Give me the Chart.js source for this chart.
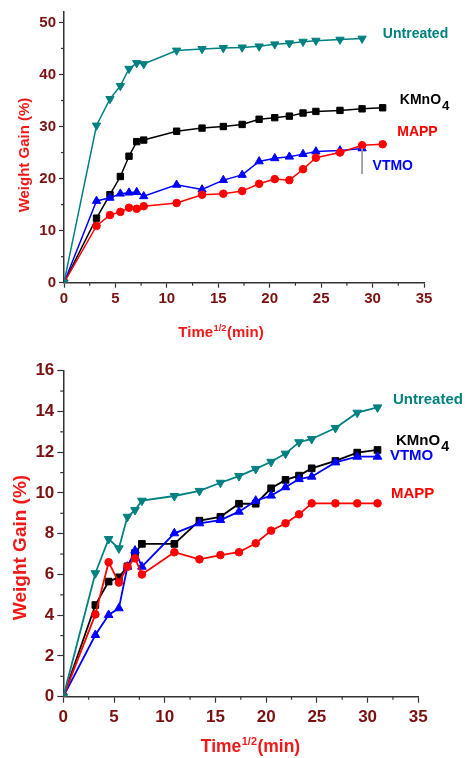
<!DOCTYPE html>
<html><head><meta charset="utf-8">
<script src="https://cdn.jsdelivr.net/npm/chart.js@4/dist/chart.umd.min.js"></script>
<style>
html,body{margin:0;padding:0;background:#fff;width:465px;height:758px;overflow:hidden}
#w1{position:absolute;left:0;top:0;width:465px;height:345px}
#w2{position:absolute;left:0;top:345px;width:465px;height:413px}
</style></head><body>
<div id="w1"><canvas id="c1"></canvas></div>
<div id="w2"><canvas id="c2"></canvas></div>
<script>
// x values: square root of time (min^1/2)
const sqrtTime = [0, 3.16, 4.47, 5.48, 6.32, 7.07, 7.75, 10.95, 13.42, 15.49, 17.32, 18.97, 20.49, 21.91, 23.24, 24.49, 26.83, 28.98, 30.98];

// Top panel (weight gain %)
const topUntreated = [0, 30.2, 35.3, 37.8, 41.1, 42.2, 42.0, 44.6, 44.9, 45.1, 45.2, 45.4, 45.8, 46.0, 46.3, 46.5, 46.7, 46.9];
const topKMnO4     = [0, 12.4, 16.9, 20.4, 24.3, 27.1, 27.4, 29.1, 29.7, 30.0, 30.4, 31.4, 31.7, 32.0, 32.6, 32.9, 33.1, 33.4, 33.6];
const topMAPP      = [0, 10.9, 13.0, 13.6, 14.4, 14.2, 14.7, 15.3, 16.9, 17.1, 17.6, 19.0, 19.9, 19.7, 21.8, 24.0, 25.0, 26.4, 26.6];
const topVTMO      = [0, 15.7, 16.3, 17.1, 17.3, 17.4, 16.6, 18.8, 17.9, 19.7, 20.7, 23.3, 23.9, 24.2, 24.7, 25.2, 25.4, 25.8];
const topMarkerLine = [[28.98, 25.8], [28.98, 20.9]];

// Bottom panel (weight gain %)
const botUntreated = [0, 6.06, 7.74, 7.28, 8.83, 9.16, 9.62, 9.85, 10.10, 10.50, 10.83, 11.18, 11.53, 11.93, 12.49, 12.65, 13.19, 13.94, 14.20];
const botKMnO4     = [0, 4.50, 5.65, 5.86, 6.40, 7.05, 7.50, 7.50, 8.64, 8.83, 9.47, 9.47, 10.23, 10.64, 10.85, 11.21, 11.57, 11.98, 12.11];
const botMAPP      = [0, 4.04, 6.60, 5.60, 6.38, 6.79, 6.00, 7.09, 6.74, 6.95, 7.09, 7.53, 8.15, 8.51, 8.95, 9.49, 9.49, 9.49, 9.49];
const botVTMO      = [0, 3.03, 4.01, 4.34, 6.38, 7.17, 6.38, 8.02, 8.51, 8.67, 9.08, 9.62, 9.87, 10.28, 10.68, 10.80, 11.50, 11.78, 11.78];

const xTicks = [0, 5, 10, 15, 20, 25, 30, 35];
const topYTicks = [0, 10, 20, 30, 40, 50];
const botYTicks = [0, 2, 4, 6, 8, 10, 12, 14, 16];
const seriesNames = ['Untreated', 'KMnO', 'MAPP', 'VTMO'];
const xTitle = ['Time', '1/2', '(min)'];
const yTitle = 'Weight Gain (%)';

const C = {teal:'#008080', black:'#000000', red:'#ff0000', blue:'#0000ff', tick:'#7a1010', title:'#f21818', axis:'#333333'};
const FONT = '"Liberation Sans", Arial, sans-serif';

function pts(ys){ return ys.map((y,i)=>({x:sqrtTime[i], y:y})); }

function ds(label, ys, color, style, r, rot, lw){
  return {label, data:pts(ys), borderColor:color, backgroundColor:color, pointStyle:style,
    pointRadius:r, pointHoverRadius:r, pointRotation:rot||0, borderWidth:lw, pointBorderWidth:1, tension:0};
}

const textPlugin = {
  id:'textPlugin',
  afterDraw(chart, args, o){
    const ctx = chart.ctx, xs = chart.scales.x, ys = chart.scales.y;
    ctx.save();
    // minor ticks
    ctx.strokeStyle = C.axis; ctx.lineWidth = 1.2;
    o.xMinor.forEach(v=>{ const px = xs.getPixelForValue(v); ctx.beginPath(); ctx.moveTo(px, ys.bottom); ctx.lineTo(px, ys.bottom+o.minorLen); ctx.stroke(); });
    o.yMinor.forEach(v=>{ const py = ys.getPixelForValue(v); ctx.beginPath(); ctx.moveTo(xs.left, py); ctx.lineTo(xs.left-o.minorLen, py); ctx.stroke(); });
    // series labels
    ctx.textBaseline = 'middle'; ctx.textAlign = 'left';
    o.labels.forEach(l=>{
      const px = xs.getPixelForValue(l.x), py = ys.getPixelForValue(l.y);
      ctx.fillStyle = l.color; ctx.font = 'bold '+o.labelSize+'px '+FONT;
      ctx.fillText(l.text, px, py);
      if (l.sub){
        const w = ctx.measureText(l.text).width;
        ctx.font = 'bold '+(o.labelSize*0.95)+'px '+FONT;
        ctx.fillText(l.sub, px+w+1, py+o.labelSize*0.45);
      }
    });
    // x title with superscript
    const f = o.xTitleSize;
    ctx.fillStyle = C.title; ctx.textBaseline = 'alphabetic';
    ctx.font = 'bold '+f+'px '+FONT;
    const w1 = ctx.measureText(xTitle[0]).width;
    ctx.font = 'bold '+(f*0.62)+'px '+FONT;
    const w2 = ctx.measureText(xTitle[1]).width;
    ctx.font = 'bold '+f+'px '+FONT;
    const w3 = ctx.measureText(xTitle[2]).width;
    const x0 = o.xTitleX - (w1+w2+w3+1)/2, base = o.xTitleY + f*0.36;
    ctx.fillText(xTitle[0], x0, base);
    ctx.font = 'bold '+(f*0.62)+'px '+FONT;
    ctx.fillText(xTitle[1], x0+w1+0.5, base - f*0.42);
    ctx.font = 'bold '+f+'px '+FONT;
    ctx.fillText(xTitle[2], x0+w1+w2+1, base);
    // y title
    ctx.translate(o.yTitleX, o.yTitleY); ctx.rotate(-Math.PI/2);
    ctx.textAlign = 'center'; ctx.textBaseline = 'middle';
    ctx.font = 'bold '+o.yTitleSize+'px '+FONT;
    ctx.fillText(yTitle, 0, 0);
    ctx.restore();
  }
};

function makeChart(id, cfg){
  return new Chart(document.getElementById(id), {
    type:'line',
    data:{datasets:cfg.datasets},
    plugins:[textPlugin],
    options:{
      responsive:true, maintainAspectRatio:false, animation:false, devicePixelRatio:1,
      layout:{padding:cfg.padding},
      plugins:{legend:{display:false}, tooltip:{enabled:false}, textPlugin:cfg.text},
      scales:{
        x:{type:'linear', min:0, max:35,
          afterBuildTicks:s=>{ s.ticks = xTicks.map(v=>({value:v})); },
          afterFit:s=>{ s.height = cfg.xHeight; },
          grid:{display:true, drawOnChartArea:false, drawTicks:true, tickLength:cfg.tickLen, tickColor:C.axis, tickWidth:1.2},
          border:{display:true, color:C.axis, width:1.5},
          ticks:{color:C.tick, font:{family:FONT, weight:'bold', size:cfg.tickSize}, padding:cfg.xPad, maxRotation:0, autoSkip:false}},
        y:{type:'linear', min:0, max:cfg.yMax,
          afterBuildTicks:s=>{ s.ticks = cfg.yTicks.map(v=>({value:v})); },
          afterFit:s=>{ s.width = cfg.yWidth; },
          grid:{display:true, drawOnChartArea:false, drawTicks:true, tickLength:cfg.tickLen, tickColor:C.axis, tickWidth:1.2},
          border:{display:true, color:C.axis, width:1.5},
          ticks:{color:C.tick, font:{family:FONT, weight:'bold', size:cfg.tickSize}, padding:cfg.yPad, autoSkip:false}}
      }
    }
  });
}

// Top chart
makeChart('c1', {
  padding:{left:0, top:8, right:41, bottom:0},
  xHeight:345-282.7, yWidth:64, yMax:52, yTicks:topYTicks, tickLen:5, tickSize:15, xPad:2, yPad:3,
  datasets:[
    {label:'marker', data:topMarkerLine.map(p=>({x:p[0], y:p[1]})), borderColor:'#999999', borderWidth:1, pointRadius:0},
    ds('Untreated', topUntreated, C.teal, 'triangle', 4.8, 180, 1.5),
    ds('MAPP', topMAPP, C.red, 'circle', 3.8, 0, 1.5),
    ds('VTMO', topVTMO, C.blue, 'triangle', 4.8, 0, 1.5),
    ds('KMnO4', topKMnO4, C.black, 'rect', 4.5, 0, 1.5)
  ],
  text:{xMinor:[2.5,7.5,12.5,17.5,22.5,27.5,32.5], yMinor:[5,15,25,35,45], minorLen:3, labelSize:14,
    labels:[
      {text:seriesNames[0], x:31.0, y:47.8, color:C.teal},
      {text:seriesNames[1], sub:'4', x:32.65, y:35.0, color:C.black},
      {text:seriesNames[2], x:32.4, y:28.95, color:C.red},
      {text:seriesNames[3], x:30.0, y:22.45, color:C.blue}
    ],
    xTitleX:221, xTitleY:332, xTitleSize:15, yTitleX:25, yTitleY:155, yTitleSize:15}
});

// Bottom chart
makeChart('c2', {
  padding:{left:0, top:25.7, right:465-418.3, bottom:0},
  xHeight:413-351.7, yWidth:63.3, yMax:16, yTicks:botYTicks, tickLen:6, tickSize:17, xPad:4, yPad:3,
  datasets:[
    ds('Untreated', botUntreated, C.teal, 'triangle', 5, 180, 1.8),
    ds('MAPP', botMAPP, C.red, 'circle', 3.8, 0, 1.8),
    ds('VTMO', botVTMO, C.blue, 'triangle', 5, 0, 1.8),
    ds('KMnO4', botKMnO4, C.black, 'rect', 4.7, 0, 1.8)
  ],
  text:{xMinor:[2.5,7.5,12.5,17.5,22.5,27.5,32.5], yMinor:[1,3,5,7,9,11,13,15], minorLen:3, labelSize:15,
    labels:[
      {text:seriesNames[0], x:32.5, y:14.56, color:C.teal},
      {text:seriesNames[1], sub:'4', x:32.8, y:12.56, color:C.black},
      {text:seriesNames[3], x:32.2, y:11.81, color:C.blue},
      {text:seriesNames[2], x:32.3, y:9.95, color:C.red}
    ],
    xTitleX:250.5, xTitleY:400.7, xTitleSize:17.5, yTitleX:21, yTitleY:202.5, yTitleSize:19}
});
</script>
</body></html>
